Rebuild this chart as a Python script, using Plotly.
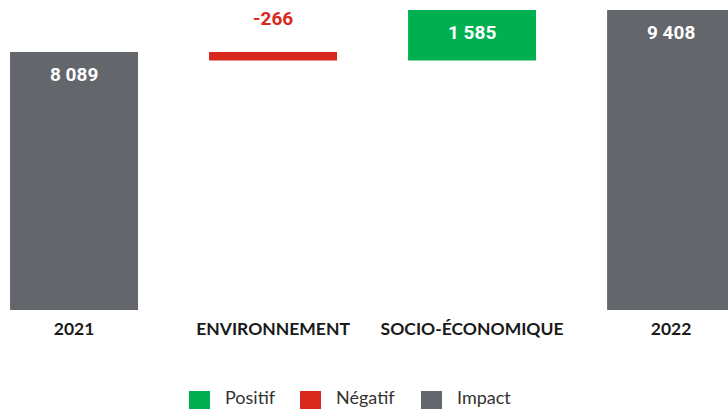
import plotly.graph_objects as go

categories = ["2021", "ENVIRONNEMENT", "SOCIO-ÉCONOMIQUE", "2022"]
values = [8089, -266, 1585, 9408]
measures = ["absolute", "relative", "relative", "total"]
labels = ["8 089", "-266", "1 585", "9 408"]
legend_names = ["Positif", "Négatif", "Impact"]

GRAY = "#63666A"
GREEN = "#00B050"
RED = "#D9281E"
legend_colors = [GREEN, RED, GRAY]

W, H = 728, 409
MT, MB = 10, 99
PLOT_H = H - MT - MB

fig = go.Figure()
fig.add_trace(go.Waterfall(
    x=list(range(len(categories))), y=values, measure=measures,
    increasing=dict(marker=dict(color=GREEN)),
    decreasing=dict(marker=dict(color=RED)),
    totals=dict(marker=dict(color=GRAY)),
    connector=dict(visible=False),
    width=0.643, showlegend=False, hoverinfo="skip",
))

# value labels
cum = 0
for i, (v, m, lab) in enumerate(zip(values, measures, labels)):
    if m == "absolute":
        start, end = 0, v
        cum = v
    elif m == "total":
        start, end = 0, cum
    else:
        start, end = cum, cum + v
        cum = cum + v
    top = max(start, end)
    if m == "relative" and v < 0:
        fig.add_annotation(x=i, y=top, text=lab, showarrow=False, yshift=34,
                           font=dict(family="Roboto", size=19, color=RED, weight="bold"))
    else:
        fig.add_annotation(x=i, y=top, text=lab, showarrow=False, yshift=-22,
                           font=dict(family="Roboto", size=19, color="white", weight="bold"))

# manual legend (pixel positions converted to paper coords)
def px_x(p):
    return p / W

def px_y(p):
    return (H - MB - p) / PLOT_H

sq_left = [189, 300, 421]
txt_left = [223, 334, 455]
for name, col, sx, tx in zip(legend_names, legend_colors, sq_left, txt_left):
    fig.add_shape(type="rect", xref="paper", yref="paper",
                  x0=px_x(sx), x1=px_x(sx + 21), y0=px_y(391), y1=px_y(412),
                  fillcolor=col, line=dict(width=0))
    fig.add_annotation(xref="paper", yref="paper", x=px_x(tx), y=px_y(397),
                       xanchor="left", yanchor="middle", text=name, showarrow=False,
                       font=dict(family="Lato", size=18, color="#333333"))

fig.update_layout(
    width=W, height=H,
    margin=dict(l=0, r=0, t=MT, b=MB),
    plot_bgcolor="white", paper_bgcolor="white",
    showlegend=False,
    xaxis=dict(range=[-0.372, 3.286], showgrid=False, zeroline=False, showline=False,
               ticks="", ticklabelstandoff=6,
               tickmode="array", tickvals=list(range(len(categories))), ticktext=categories,
               tickfont=dict(family="Lato", size=17.5, color="#1a1a1a", weight="bold")),
    yaxis=dict(range=[0, 9408], visible=False),
)
fig.write_html("out.html", config={"displayModeBar": False},
               post_script="document.body.style.margin='0';")
